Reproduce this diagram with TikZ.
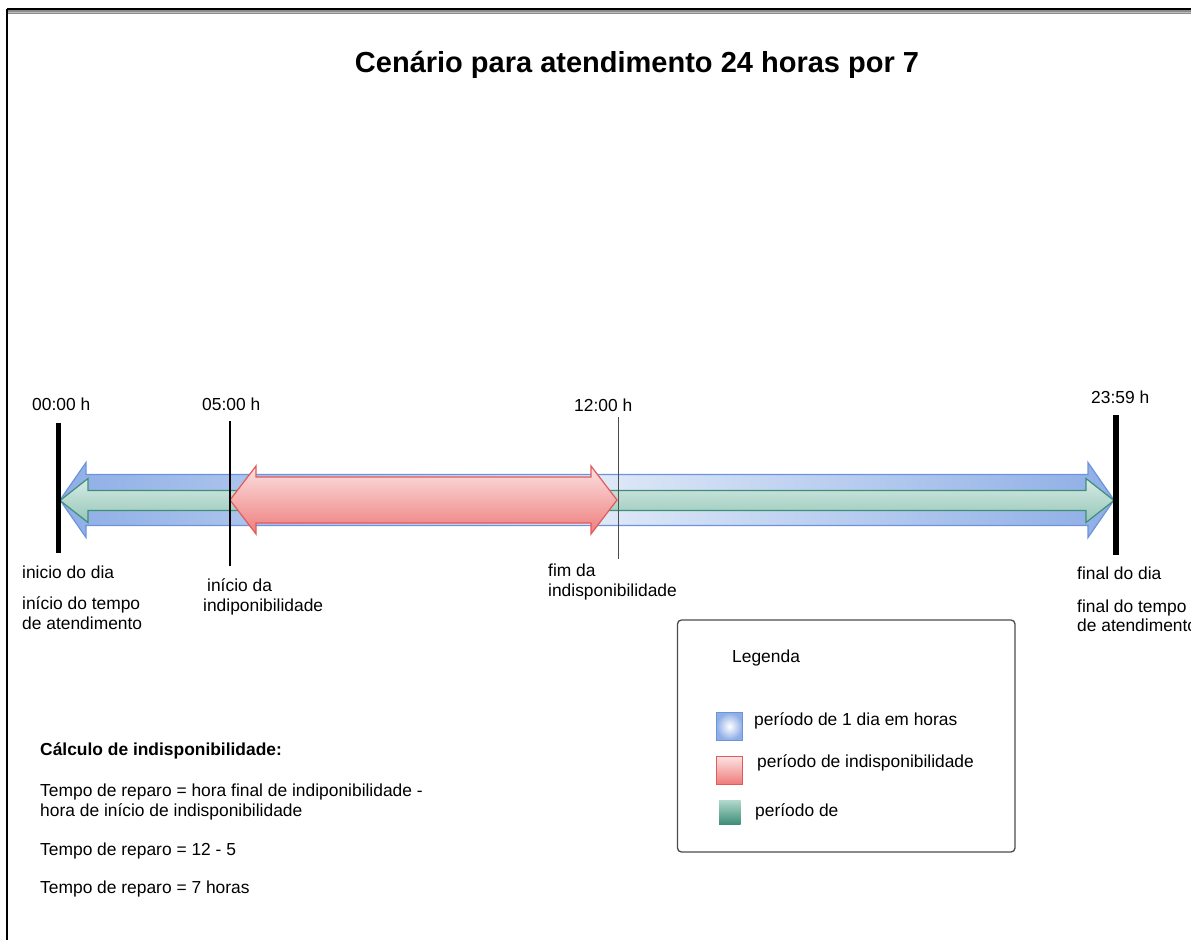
\documentclass[tikz,border=0pt]{standalone}
\usepackage{fontspec}
\setmainfont{Liberation Sans}
\definecolor{bluestroke}{HTML}{6C94DC}
\definecolor{blueedge}{HTML}{8EAEE6}
\definecolor{bluemid}{HTML}{E0EAF8}
\definecolor{redstroke}{HTML}{E35A5A}
\definecolor{redtop}{HTML}{FCE2E2}
\definecolor{redbot}{HTML}{EE7C7C}
\definecolor{greenstroke}{HTML}{3F8F78}
\definecolor{greentop}{HTML}{D6EBE5}
\definecolor{greenbot}{HTML}{95C6B7}
\definecolor{greensqtop}{HTML}{B2D9CD}
\definecolor{greensqbot}{HTML}{3F8E78}
\newcommand{\dblarr}[7]{%
  \draw[#1] (#2,#4) -- ({#2+#7},{#4-#6}) -- ({#2+#7},{#4-#5}) -- ({#3-#7},{#4-#5})
    -- ({#3-#7},{#4-#6}) -- (#3,#4) -- ({#3-#7},{#4+#6}) -- ({#3-#7},{#4+#5})
    -- ({#2+#7},{#4+#5}) -- ({#2+#7},{#4+#6}) -- cycle;}
\tikzset{
  lbl/.style={anchor=west, inner sep=0pt, align=left, font=\fontsize{17.4}{19.5}\selectfont},
  bluearrow/.style={draw=bluestroke, line width=1.2pt, left color=blueedge, right color=blueedge, middle color=bluemid},
  greenarrow/.style={draw=greenstroke, line width=1.2pt, top color=greentop, bottom color=greenbot},
  redarrow/.style={draw=redstroke, line width=1.2pt, top color=redtop, bottom color=redbot},
  bigbar/.style={line width=5.5pt, black},
  tick/.style={line width=1.3pt},
}
\begin{document}
\begin{tikzpicture}[x=1pt,y=-1pt]
\clip (0,0) rectangle (1191,940);
\fill[white] (0,0) rectangle (1191,940);
% frame
\fill[black!45] (7,10) rectangle (1191,13.5);
\fill[black!25] (7,11.5) rectangle (1191,12.5);
\draw[line width=1.2pt] (7,9) -- (1191,9);
\draw[line width=2pt] (7,9) -- (7,940);
% title
\node[inner sep=0pt, font=\fontsize{29}{34}\selectfont\bfseries] (title) at (637,65) {Cenário para atendimento 24 horas por 7};
% arrows
\dblarr{bluearrow}{60}{1114}{500}{25.5}{37.5}{26}
\dblarr{greenarrow}{60}{1114}{500.5}{10}{22}{28}
\dblarr{redarrow}{230}{617}{500}{23}{34}{26}
% markers
\coordinate (t0a) at (58.5,423); \coordinate (t0b) at (58.5,553);
\coordinate (t5a) at (230,421); \coordinate (t5b) at (230,566);
\coordinate (t12a) at (618.5,417); \coordinate (t12b) at (618.5,559);
\coordinate (t24a) at (1116,415); \coordinate (t24b) at (1116,555);
\draw[bigbar] (t0a) -- (t0b);
\draw[bigbar] (t24a) -- (t24b);
\draw[tick, black] (t5a) -- (t5b);
\draw[tick, black!70] (t12a) -- (t12b);
% time labels
\node[lbl] (h0) at (32,404) {00:00 h};
\node[lbl] (h5) at (202,404) {05:00 h};
\node[lbl] (h12) at (574,405) {12:00 h};
\node[lbl] (h24) at (1091,397) {23:59 h};
% lower labels
\node[lbl] (l0a) at (22,572) {inicio do dia};
\node[lbl] (l0b) at (22,613) {início do tempo\\de atendimento};
\node[lbl] (l5) at (203,597) {\hspace{4pt}início da\\indiponibilidade};
\node[lbl] (l12) at (548,582) {fim da\\indisponibilidade};
\node[lbl] (l24a) at (1077,573) {final do dia};
\node[lbl] (l24b) at (1077,616) {final do tempo\\de atendimento};
% legend
\draw[draw=black!70, line width=1.3pt, rounded corners=4pt] (677.5,620) rectangle (1015,852);
\node[lbl] (leg) at (732,658) {Legenda};
\draw[draw=bluestroke, line width=1pt, inner color=white, outer color=blueedge] (716.5,712.5) rectangle (742.5,740);
\node[lbl] (leg1) at (754,721) {período de 1 dia em horas};
\draw[draw=redstroke, line width=1pt, top color=redtop, bottom color=redbot] (716.5,756.5) rectangle (742.5,784);
\node[lbl] (leg2) at (757,763) {período de indisponibilidade};
\shade[top color=greensqtop, bottom color=greensqbot] (719,800) rectangle (740.5,824);
\node[lbl] (leg3) at (755,812) {período de};
% calculation
\node[lbl, font=\fontsize{17.4}{19.5}\selectfont\bfseries] (calc) at (40,751) {Cálculo de indisponibilidade:};
\node[lbl] (c1) at (40,802) {Tempo de reparo = hora final de indiponibilidade -\\hora de início de indisponibilidade};
\node[lbl] (c2) at (40,851) {Tempo de reparo = 12 - 5};
\node[lbl] (c3) at (40,889) {Tempo de reparo = 7 horas};
\end{tikzpicture}
\end{document}
